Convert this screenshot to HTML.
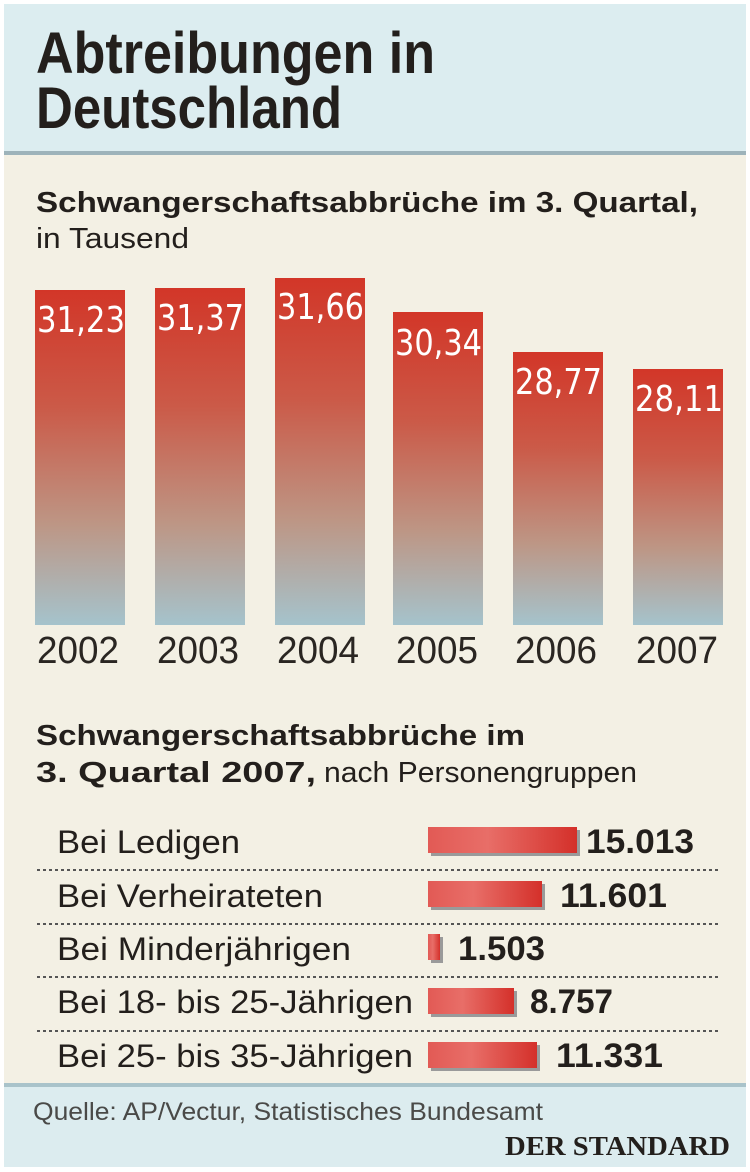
<!DOCTYPE html>
<html><head><meta charset="utf-8"><style>
html,body{margin:0;padding:0;background:#fff}
svg{display:block}
</style></head><body>
<svg width="750" height="1172" viewBox="0 0 750 1172" xmlns="http://www.w3.org/2000/svg">
<defs>
<linearGradient id="vg" x1="0" y1="0" x2="0" y2="1">
<stop offset="0" stop-color="#d23628"/>
<stop offset="0.35" stop-color="#cb5a48"/>
<stop offset="0.7" stop-color="#bd9685"/>
<stop offset="1" stop-color="#a5c3cc"/>
</linearGradient>
<linearGradient id="hg" x1="0" y1="0" x2="1" y2="0">
<stop offset="0" stop-color="#e25a55"/>
<stop offset="0.4" stop-color="#e86e68"/>
<stop offset="1" stop-color="#d4302a"/>
</linearGradient>
</defs>
<rect x="0" y="0" width="750" height="1172" fill="#fff"/>
<rect x="4" y="4" width="742" height="150" fill="#dcedf0"/>
<rect x="4" y="151" width="742" height="4" fill="#9db3ba"/>
<rect x="4" y="155" width="742" height="930" fill="#f3f0e4"/>
<rect x="4" y="1083" width="742" height="4" fill="#a9c3ca"/>
<rect x="4" y="1087" width="742" height="80" fill="#dcecef"/>

<g font-family="Liberation Sans Narrow, Liberation Sans, sans-serif" fill="#231f1c">
<text x="36" y="73" font-size="58" font-weight="bold" textLength="399" lengthAdjust="spacingAndGlyphs">Abtreibungen in</text>
<text x="36" y="128" font-size="58" font-weight="bold" textLength="306" lengthAdjust="spacingAndGlyphs">Deutschland</text>
<text x="36" y="212" font-size="29" font-weight="bold" textLength="662" lengthAdjust="spacingAndGlyphs">Schwangerschaftsabbrüche im 3. Quartal,</text>
<text x="36" y="248" font-size="29" textLength="153" lengthAdjust="spacingAndGlyphs">in Tausend</text>
</g>

<g fill="url(#vg)">
<rect x="35" y="290" width="90" height="335"/>
<rect x="155" y="288" width="90" height="337"/>
<rect x="275" y="278" width="90" height="347"/>
<rect x="393" y="312" width="90" height="313"/>
<rect x="513" y="352" width="90" height="273"/>
<rect x="633" y="369" width="90" height="256"/>
</g>
<g font-family="DejaVu Sans, sans-serif" fill="#fff" font-size="36">
<text x="37" y="332" textLength="88" lengthAdjust="spacingAndGlyphs">31,23</text>
<text x="157" y="330" textLength="87" lengthAdjust="spacingAndGlyphs">31,37</text>
<text x="277" y="319" textLength="87" lengthAdjust="spacingAndGlyphs">31,66</text>
<text x="395" y="355" textLength="87" lengthAdjust="spacingAndGlyphs">30,34</text>
<text x="515" y="394" textLength="87" lengthAdjust="spacingAndGlyphs">28,77</text>
<text x="635" y="411" textLength="88" lengthAdjust="spacingAndGlyphs">28,11</text>
</g>
<g font-family="Liberation Sans, sans-serif" fill="#2a2622" font-size="38">
<text x="37" y="663" textLength="82" lengthAdjust="spacingAndGlyphs">2002</text>
<text x="157" y="663" textLength="82" lengthAdjust="spacingAndGlyphs">2003</text>
<text x="277" y="663" textLength="82" lengthAdjust="spacingAndGlyphs">2004</text>
<text x="396" y="663" textLength="82" lengthAdjust="spacingAndGlyphs">2005</text>
<text x="515" y="663" textLength="82" lengthAdjust="spacingAndGlyphs">2006</text>
<text x="636" y="663" textLength="82" lengthAdjust="spacingAndGlyphs">2007</text>
</g>

<g font-family="Liberation Sans Narrow, Liberation Sans, sans-serif" fill="#231f1c">
<text x="36" y="745" font-size="29" font-weight="bold" textLength="489" lengthAdjust="spacingAndGlyphs">Schwangerschaftsabbrüche im</text>
<text x="36" y="782" font-size="29" font-weight="bold" textLength="280" lengthAdjust="spacingAndGlyphs">3. Quartal 2007,</text>
<text x="324" y="782" font-size="29" textLength="313" lengthAdjust="spacingAndGlyphs">nach Personengruppen</text>
</g>

<g stroke="#555" stroke-width="2" stroke-dasharray="3,3">
<line x1="37" y1="870" x2="718" y2="870"/>
<line x1="37" y1="924" x2="718" y2="924"/>
<line x1="37" y1="977" x2="718" y2="977"/>
<line x1="37" y1="1031" x2="718" y2="1031"/>
</g>

<g fill="#9a9a9a">
<rect x="431" y="830" width="149" height="26"/>
<rect x="431" y="884" width="114" height="26"/>
<rect x="431" y="937" width="12" height="26"/>
<rect x="431" y="991" width="86" height="26"/>
<rect x="431" y="1045" width="109" height="26"/>
</g>
<g fill="url(#hg)">
<rect x="428" y="827" width="149" height="26"/>
<rect x="428" y="881" width="114" height="26"/>
<rect x="428" y="934" width="12" height="26"/>
<rect x="428" y="988" width="86" height="26"/>
<rect x="428" y="1042" width="109" height="26"/>
</g>

<g font-family="Liberation Sans Narrow, Liberation Sans, sans-serif" fill="#231f1c" font-size="32">
<text x="57" y="853" textLength="183" lengthAdjust="spacingAndGlyphs">Bei Ledigen</text>
<text x="57" y="907" textLength="266" lengthAdjust="spacingAndGlyphs">Bei Verheirateten</text>
<text x="57" y="960" textLength="294" lengthAdjust="spacingAndGlyphs">Bei Minderjährigen</text>
<text x="57" y="1013" textLength="356" lengthAdjust="spacingAndGlyphs">Bei 18- bis 25-Jährigen</text>
<text x="57" y="1067" textLength="356" lengthAdjust="spacingAndGlyphs">Bei 25- bis 35-Jährigen</text>
</g>
<g font-family="Liberation Sans Narrow, Liberation Sans, sans-serif" fill="#231f1c" font-size="34" font-weight="bold">
<text x="586" y="853" textLength="108" lengthAdjust="spacingAndGlyphs">15.013</text>
<text x="560" y="907" textLength="107" lengthAdjust="spacingAndGlyphs">11.601</text>
<text x="458" y="960" textLength="87" lengthAdjust="spacingAndGlyphs">1.503</text>
<text x="530" y="1013" textLength="83" lengthAdjust="spacingAndGlyphs">8.757</text>
<text x="556" y="1067" textLength="107" lengthAdjust="spacingAndGlyphs">11.331</text>
</g>

<text x="33" y="1120" font-family="Liberation Sans Narrow, Liberation Sans, sans-serif" font-size="25" fill="#4a4a48" textLength="510" lengthAdjust="spacingAndGlyphs">Quelle: AP/Vectur, Statistisches Bundesamt</text>
<text x="505" y="1155" font-family="Liberation Serif, serif" font-size="27" font-weight="bold" fill="#231f1c" textLength="225" lengthAdjust="spacingAndGlyphs">DER STANDARD</text>
</svg>
</body></html>
